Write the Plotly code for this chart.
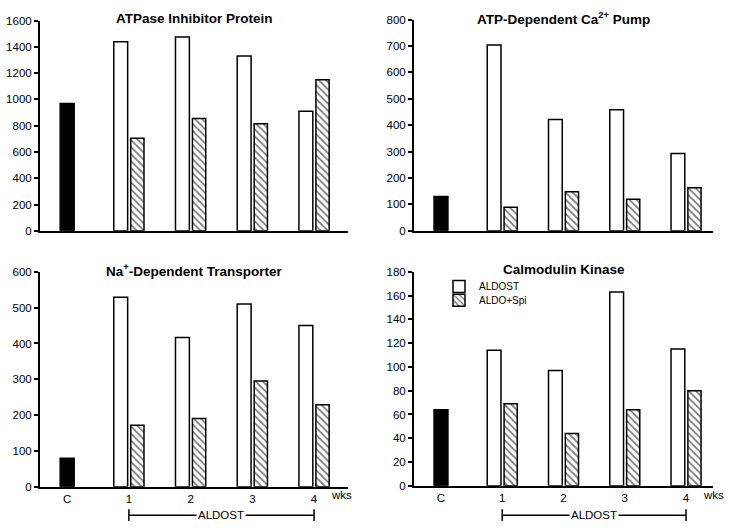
import plotly.graph_objects as go

# ---------------- data ----------------
categories = ["C", "1", "2", "3", "4"]
weeks = ["1", "2", "3", "4"]

atpase_control = [970]
atpase_aldost = [1440, 1475, 1330, 910]
atpase_spi = [705, 855, 815, 1150]

ca_control = [130]
ca_aldost = [704, 422, 459, 293]
ca_spi = [89, 148, 119, 163]

na_control = [80]
na_aldost = [529, 417, 510, 450]
na_spi = [172, 191, 295, 229]

cam_control = [64]
cam_aldost = [114, 97, 163, 115]
cam_spi = [69, 44, 64, 80]

titles = ["ATPase Inhibitor Protein", "ATP-Dependent Ca<sup>2+</sup> Pump",
          "Na<sup>+</sup>-Dependent Transporter", "Calmodulin Kinase"]
y_ranges = [(0, 1600, 200), (0, 800, 100), (0, 600, 100), (0, 180, 20)]
panels = [
    (atpase_control, atpase_aldost, atpase_spi),
    (ca_control, ca_aldost, ca_spi),
    (na_control, na_aldost, na_spi),
    (cam_control, cam_aldost, cam_spi),
]

W, H = 729, 528
FONT = "Liberation Sans, Arial, Helvetica, sans-serif"

def px_x(p):
    return p / W

def px_y(p):
    return 1 - p / H

# panel geometry in pixels: (left, right, top(range max), bottom(zero), x range end)
geom = [
    (40, 348, 15, 230, 4.55),
    (414, 713, 14, 230, 4.44),
    (40, 348, 272, 492, 4.55),
    (414, 713, 272, 491, 4.44),
]

fig = go.Figure()
layout = dict(
    width=W, height=H,
    margin=dict(l=0, r=0, t=0, b=0),
    plot_bgcolor="white", paper_bgcolor="white",
    barmode="overlay",
    showlegend=True,
    font=dict(family=FONT, color="black"),
)

annotations = []
shapes = []

for i, (ctrl, ald, spi) in enumerate(panels):
    n = i + 1
    xa = "x" if n == 1 else f"x{n}"
    ya = "y" if n == 1 else f"y{n}"
    left, right, top, bottom, xend = geom[i]
    lo, hi, dt = y_ranges[i]

    fig.add_trace(go.Bar(
        x=["C"], y=ctrl, xaxis=xa, yaxis=ya,
        marker=dict(color="black", line=dict(color="black", width=1.5)),
        width=0.227, offset=-0.113, showlegend=False, name="Control",
    ))
    fig.add_trace(go.Bar(
        x=weeks, y=ald, xaxis=xa, yaxis=ya,
        marker=dict(color="white", line=dict(color="black", width=1.5)),
        width=0.225, offset=-0.245, name="ALDOST",
        showlegend=(n == 4), legend="legend",
    ))
    fig.add_trace(go.Bar(
        x=weeks, y=spi, xaxis=xa, yaxis=ya,
        marker=dict(color="white", line=dict(color="black", width=1.5),
                    pattern=dict(shape="\\", fgcolor="black", bgcolor="white",
                                 size=5, solidity=0.35)),
        width=0.215, offset=0.03, name="ALDO+Spi",
        showlegend=(n == 4), legend="legend2",
    ))

    xkey = "xaxis" if n == 1 else f"xaxis{n}"
    ykey = "yaxis" if n == 1 else f"yaxis{n}"
    layout[xkey] = dict(
        domain=[px_x(left), px_x(right)], anchor=ya,
        type="category", categoryorder="array", categoryarray=categories,
        range=[-0.44, xend], showline=True, linewidth=2, linecolor="black",
        ticks="", showgrid=False, zeroline=False,
        showticklabels=(n >= 3), tickfont=dict(size=11.5, family=FONT, color="black"),
    )
    layout[ykey] = dict(
        domain=[px_y(bottom), px_y(top)], anchor=xa,
        range=[lo, hi], dtick=dt, tick0=0, showline=True, linewidth=2, linecolor="black",
        ticks="outside", ticklen=4, tickwidth=1.5, tickcolor="black",
        showgrid=False, zeroline=False,
        tickfont=dict(size=11.5, family=FONT, color="black"),
    )

    annotations.append(dict(
        text=f"<b>{titles[i]}</b>", xref="paper", yref="paper",
        x=px_x((left + right) / 2), y=px_y(top - 2), xanchor="center", yanchor="middle",
        showarrow=False, font=dict(size=13.5, family=FONT, color="black"),
    ))

    if n >= 3:
        annotations.append(dict(
            text="wks", xref=xa, yref="paper", x=4.44, y=px_y(500),
            xanchor="center", yanchor="middle", showarrow=False,
            font=dict(size=11.5, family=FONT, color="black"),
        ))
        shapes.append(dict(type="line", xref=xa, yref="paper", x0="1", x1="4",
                           y0=px_y(521), y1=px_y(521), line=dict(color="black", width=1.5)))
        for xv in ["1", "4"]:
            shapes.append(dict(type="line", xref=xa, yref="paper", x0=xv, x1=xv,
                               y0=px_y(515), y1=px_y(527), line=dict(color="black", width=1.5)))
        annotations.append(dict(
            text="ALDOST", xref=xa, yref="paper", x=2.5, y=px_y(521),
            xanchor="center", yanchor="middle", showarrow=False, bgcolor="white",
            borderpad=1, font=dict(size=11.5, family=FONT, color="black"),
        ))

layout["annotations"] = annotations
layout["shapes"] = shapes
legend_common = dict(
    xanchor="left", yanchor="middle",
    bgcolor="rgba(0,0,0,0)", font=dict(size=10, family=FONT, color="black"),
    itemwidth=30, tracegroupgap=0,
)
layout["legend"] = dict(x=px_x(439), y=px_y(287), **legend_common)
layout["legend2"] = dict(x=px_x(439), y=px_y(301), **legend_common)

fig.update_layout(**layout)
fig.write_html("out.html", post_script="document.body.style.margin='0';",
               config={"displayModeBar": False})
